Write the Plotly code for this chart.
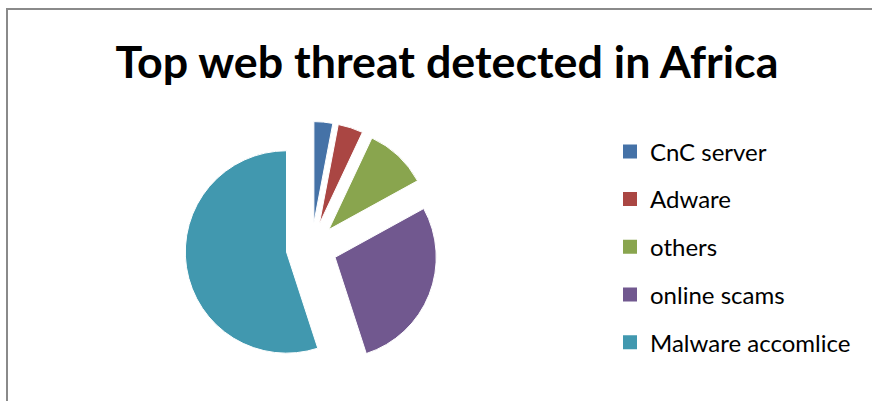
import plotly.graph_objects as go

categories = ["CnC server", "Adware", "others", "online scams", "Malware accomlice"]
values = [3, 4, 10, 28, 55]
colors = ["#4572A7", "#AA4643", "#89A54E", "#71588F", "#4198AF"]
title_text = "Top web threat detected in Africa"

W, H = 872, 401

fig = go.Figure()
fig.add_trace(go.Pie(
    labels=categories, values=values, sort=False, direction="clockwise", rotation=0,
    pull=[0.25] * len(values), textinfo="none", hoverinfo="label+value",
    marker=dict(colors=colors, line=dict(color="white", width=1)),
    domain=dict(x=[185 / W, 438 / W], y=[1 - 374.5 / H, 1 - 121.5 / H]),
    showlegend=False,
))

for i, (cat, col) in enumerate(zip(categories, colors)):
    fig.add_trace(go.Scatter(
        x=[None], y=[None], mode="markers", name=cat, legendgroup=f"g{i}",
        marker=dict(symbol="square", size=14, color=col), showlegend=True,
    ))

fig.update_layout(
    width=W, height=H,
    margin=dict(l=0, r=0, t=0, b=0),
    paper_bgcolor="white", plot_bgcolor="white",
    xaxis=dict(visible=False), yaxis=dict(visible=False),
    title=dict(text=f"<b>{title_text}</b>", x=447 / W, xanchor="center",
               y=1 - 62 / H, yanchor="middle",
               font=dict(family="Lato", size=44.8, color="black")),
    legend=dict(x=610 / W, xanchor="left", y=1 - 246.8 / H, yanchor="middle",
                font=dict(family="Lato", size=24, color="black"),
                tracegroupgap=13.5, bgcolor="rgba(0,0,0,0)"),
    shapes=[dict(type="rect", xref="paper", yref="paper",
                 x0=7 / W, x1=1.05, y0=-0.05, y1=1 - 9 / H,
                 line=dict(color="#8a8a8a", width=2), fillcolor="rgba(0,0,0,0)")],
)

fig.write_html("out.html", config={"displayModeBar": False},
               post_script="document.body.style.margin='0px';")
